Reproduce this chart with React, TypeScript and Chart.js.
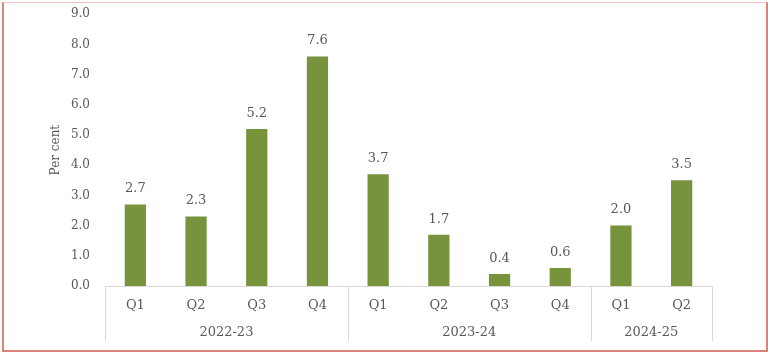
import React, { useEffect, useRef } from "react";
import { Chart, registerables } from "chart.js";

Chart.register(...registerables);

const quarters = ["Q1", "Q2", "Q3", "Q4", "Q1", "Q2", "Q3", "Q4", "Q1", "Q2"];
const values = [2.7, 2.3, 5.2, 7.6, 3.7, 1.7, 0.4, 0.6, 2.0, 3.5];
const years = ["2022-23", "2023-24", "2024-25"];
const yearSpans = [4, 4, 2];
const yTicks = [0, 1, 2, 3, 4, 5, 6, 7, 8, 9];

const FONT = "'DejaVu Serif', Georgia, serif";
const TEXT = "#595959";
const BAR = "#77933C";
const LINE = "#d9d9d9";

const groupPlugin = {
  id: "groupAxis",
  afterDraw(chart: any) {
    const { ctx, chartArea, scales } = chart;
    const x = scales.x;
    const n = quarters.length;
    const step = (x.getPixelForValue(n - 1) - x.getPixelForValue(0)) / (n - 1);
    const bottom = chartArea.bottom;
    ctx.save();
    ctx.strokeStyle = LINE;
    ctx.lineWidth = 1;
    ctx.beginPath();
    ctx.moveTo(chartArea.left, bottom + 0.5);
    ctx.lineTo(chartArea.right, bottom + 0.5);
    let idx = 0;
    const bounds: number[] = [];
    bounds.push(x.getPixelForValue(0) - step / 2);
    yearSpans.forEach((s) => {
      idx += s;
      bounds.push(x.getPixelForValue(idx - 1) + step / 2);
    });
    bounds.forEach((b) => {
      const px = Math.round(b) + 0.5;
      ctx.moveTo(px, bottom);
      ctx.lineTo(px, bottom + 55);
    });
    ctx.stroke();
    ctx.fillStyle = TEXT;
    ctx.font = `13px ${FONT}`;
    ctx.textAlign = "center";
    ctx.textBaseline = "middle";
    years.forEach((yr, i) => {
      const cx = (bounds[i] + bounds[i + 1]) / 2;
      ctx.fillText(yr, cx, bottom + 47);
    });
    const meta = chart.getDatasetMeta(0);
    ctx.textBaseline = "bottom";
    meta.data.forEach((bar: any, i: number) => {
      ctx.fillText(values[i].toFixed(1), bar.x, bar.y - 9);
    });
    ctx.restore();
  },
};

export default function App() {
  const ref = useRef<HTMLCanvasElement>(null);
  useEffect(() => {
    const chart = new Chart(ref.current!, {
      type: "bar",
      data: {
        labels: quarters,
        datasets: [
          {
            data: values,
            backgroundColor: BAR,
            barPercentage: 0.35,
            categoryPercentage: 1,
          },
        ],
      },
      options: {
        animation: false,
        responsive: false,
        layout: { autoPadding: false, padding: { left: 45, right: 56, top: 5.8, bottom: 0 } },
        plugins: { legend: { display: false }, tooltip: { enabled: false } },
        scales: {
          x: {
            grid: { display: false },
            border: { display: false },
            ticks: { color: TEXT, font: { family: FONT, size: 13 }, padding: 4 },
            afterFit(scale: any) {
              scale.height = 69;
            },
          },
          y: {
            min: 0,
            max: 9,
            afterBuildTicks(scale: any) {
              scale.ticks = yTicks.map((v) => ({ value: v }));
            },
            grid: { display: false, drawTicks: false },
            border: { display: false },
            ticks: {
              color: TEXT,
              font: { family: FONT, size: 12 },
              padding: 15,
              callback: (v: any) => Number(v).toFixed(1),
            },
            title: {
              display: true,
              text: "Per cent",
              color: TEXT,
              font: { family: FONT, size: 12 },
              padding: { top: 4, bottom: 0 },
            },
            afterFit(scale: any) {
              scale.width = 60;
            },
          },
        },
      },
      plugins: [groupPlugin],
    });
    return () => chart.destroy();
  }, []);
  return (
    <div style={{ position: "fixed", left: 0, top: 0, width: 768, height: 355, background: "#fff", overflow: "hidden" }}>
      <canvas ref={ref} width={768} height={363} style={{ position: "absolute", left: 0, top: -8 }} />
      <div
        style={{
          position: "absolute",
          left: 2,
          top: 2,
          width: 762,
          height: 347,
          borderLeft: "2px solid #d98478",
          borderRight: "2px solid #d98478",
          borderBottom: "2px solid #d98478",
          borderTop: "1px solid #efc5bd",
          pointerEvents: "none",
        }}
      />
    </div>
  );
}
